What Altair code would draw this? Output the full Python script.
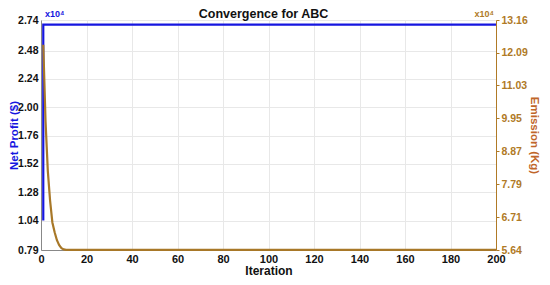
import altair as alt
import pandas as pd

# Net profit (x10^4 $)
profit_iter = [1, 2, 200]
profit_val = [1.04, 2.70, 2.70]

# Emission (x10^4 Kg)
em_iter = [1, 2, 3, 4, 5, 6, 7, 8, 9, 10, 11, 200]
em_val = [12.35, 9.84, 8.22, 7.25, 6.54, 6.22, 5.96, 5.80, 5.70, 5.66, 5.645, 5.645]

x_ticks = [0, 20, 40, 60, 80, 100, 120, 140, 160, 180, 200]
left_ticks = [0.79, 1.04, 1.28, 1.52, 1.76, 2.00, 2.24, 2.48, 2.74]
right_ticks = [5.64, 6.71, 7.79, 8.87, 9.95, 11.03, 12.09, 13.16]
title_text = ["Convergence for ABC"]

BLUE = "#1616e0"
ORANGE = "#a87828"
ORANGE_LAB = "#b07a26"
ORANGE_TITLE = "#c0662a"
FONT = "Liberation Sans"

W, H = 455, 230

df_p = pd.DataFrame({"Iteration": profit_iter, "Profit": profit_val})
df_e = pd.DataFrame({"Iteration": em_iter, "Emission": em_val})

x_scale = alt.Scale(domain=[0, 200], nice=False)
x_enc = alt.X(
    "Iteration:Q",
    scale=x_scale,
    axis=alt.Axis(
        values=x_ticks, title="Iteration", grid=True, gridColor="#e8e8e8",
        labelFont=FONT, labelFontWeight="bold", labelFontSize=11, labelColor="#111",
        titleFont=FONT, titleFontWeight="bold", titleFontSize=12, titleColor="#111",
        titlePadding=1, tickSize=0, labelPadding=3, domainColor="#888",
        labelFlush=False,
    ),
)

profit = alt.Chart(df_p).mark_line(color=BLUE, strokeWidth=2.2, interpolate="step-before").encode(
    x=x_enc,
    y=alt.Y(
        "Profit:Q",
        scale=alt.Scale(domain=[0.79, 2.74], nice=False, zero=False),
        axis=alt.Axis(
            values=left_ticks, format=".2f", title="Net Profit ($)", orient="left",
            grid=True, gridColor="#e8e8e8", tickSize=0, labelPadding=3,
            labelFont=FONT, labelFontWeight="bold", labelFontSize=10.5, labelColor="#111",
            titleFont=FONT, titleFontWeight="bold", titleFontSize=11.5, titleColor=BLUE,
            titleX=-33, titleY=H / 2, titleAngle=270, titleBaseline="top", titleAlign="center",
            domainColor="#888", labelFlush=False,
        ),
    ),
)

emission = alt.Chart(df_e).mark_line(color=ORANGE, strokeWidth=2.2).encode(
    x=alt.X("Iteration:Q", scale=x_scale),
    y=alt.Y(
        "Emission:Q",
        scale=alt.Scale(domain=[5.64, 13.16], nice=False, zero=False),
        axis=alt.Axis(
            values=right_ticks, format=".2f", title="Emission (Kg)", orient="right",
            grid=False, tickSize=3, tickColor=ORANGE_LAB, labelPadding=2,
            labelFont=FONT, labelFontWeight="bold", labelFontSize=10.5, labelColor=ORANGE_LAB,
            titleFont=FONT, titleFontWeight="bold", titleFontSize=11.5, titleColor=ORANGE_TITLE,
            titlePadding=1, domainColor=ORANGE_LAB, labelFlush=False,
        ),
    ),
)

left_exp = alt.Chart(pd.DataFrame({"t": ["x10⁴"]})).mark_text(
    color=BLUE, font=FONT, fontWeight="bold", fontSize=9, align="left", baseline="bottom"
).encode(text="t:N", x=alt.value(4), y=alt.value(-1))

right_exp = alt.Chart(pd.DataFrame({"t": ["x10⁴"]})).mark_text(
    color=ORANGE_LAB, font=FONT, fontWeight="bold", fontSize=9, align="right", baseline="bottom"
).encode(text="t:N", x=alt.value(W - 2), y=alt.value(-1))

title = alt.Chart(pd.DataFrame({"t": title_text})).mark_text(
    color="#111", font=FONT, fontWeight="bold", fontSize=12.5, align="center",
    baseline="alphabetic"
).encode(text="t:N", x=alt.value(W / 2 - 5), y=alt.value(-2))

chart = (
    alt.layer(profit, emission, left_exp, right_exp, title)
    .resolve_scale(y="independent")
    .properties(
        width=W, height=H,
        autosize=alt.AutoSizeParams(type="none"),
        padding={"left": 33, "top": 12, "right": 46, "bottom": 27},
    )
    .configure_view(stroke="#888", strokeWidth=1)
    .configure(background="white")
)

chart.save("out.html", embed_options={"renderer": "svg", "actions": False})
